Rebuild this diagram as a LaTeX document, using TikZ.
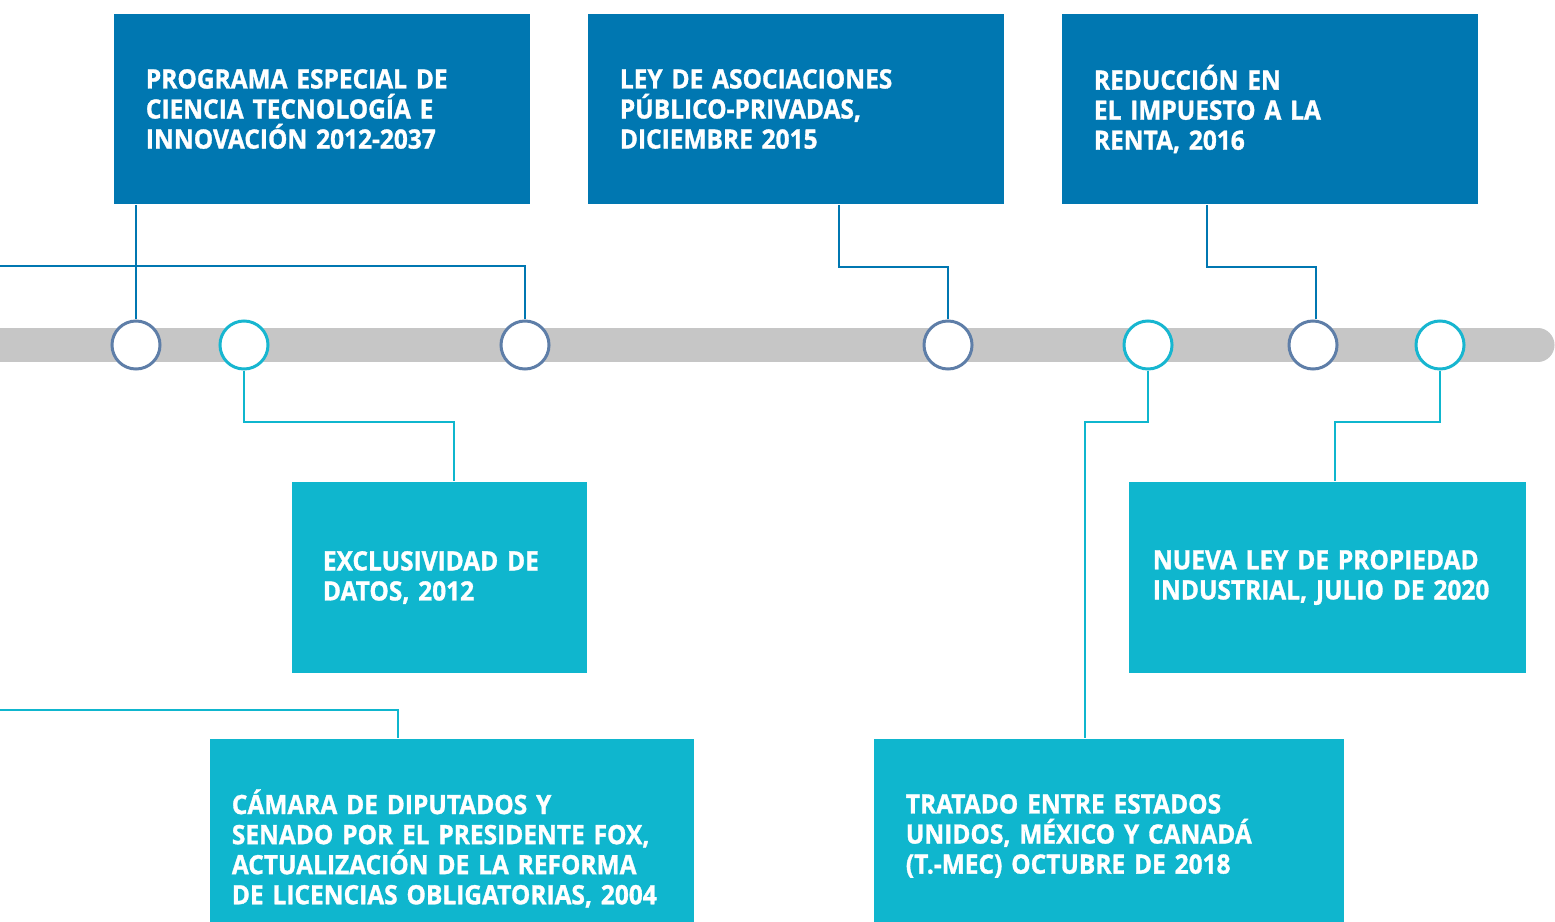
\documentclass[tikz,border=0pt]{standalone}
\usepackage{fontspec}
\newfontfamily\boxfont{Open Sans}[FakeStretch=0.92, BoldFeatures={FakeBold=1.2}]

\definecolor{darkblue}{HTML}{0077B1}
\definecolor{lightblue}{HTML}{0FB6CE}
\definecolor{ringdark}{HTML}{5E7EA8}
\definecolor{ringlight}{HTML}{17B6D0}
\definecolor{barcolor}{HTML}{C6C6C6}

\tikzset{
    topbox/.style={fill=darkblue, text=white, align=left, inner xsep=0.32cm,
        text width=3.52cm, minimum height=1.9cm,
        font=\boxfont\bfseries\fontsize{7.56}{8.55}\selectfont},
    botbox/.style={fill=lightblue, text=white, align=left,
        font=\boxfont\bfseries\fontsize{7.56}{8.55}\selectfont},
    ringtop/.style={circle, draw=ringdark, line width=0.85pt, fill=white,
        minimum size=0.48cm, inner sep=0pt},
    ringbot/.style={ringtop, draw=ringlight},
    topline/.style={darkblue, line width=0.7pt},
    botline/.style={lightblue, line width=0.7pt}
}

\begin{document}
\begin{tikzpicture}[x=0.01cm, y=-0.01cm]
    \useasboundingbox (0,0) rectangle (1555,921);
    \clip (0,0) rectangle (1555,921);

    % time bar
    \draw[barcolor, line width=0.33cm, line cap=round] (-50,345) -- (1538,345);

    % boxes above the bar
    \node[topbox] (pec) at (322,109) {PROGRAMA ESPECIAL DE\\CIENCIA TECNOLOGÍA E\\INNOVACIÓN 2012-2037};
    \node[topbox] (lap) at (796,109) {LEY DE ASOCIACIONES\\PÚBLICO-PRIVADAS,\\DICIEMBRE 2015};
    \node[topbox] (isr) at (1270,109) {REDUCCIÓN EN\\EL IMPUESTO A LA\\RENTA, 2016};

    % boxes below the bar
    \node[botbox, inner xsep=0.31cm, text width=2.33cm, minimum height=1.91cm] (exd) at (439.5,577.5) {EXCLUSIVIDAD DE\\DATOS, 2012};
    \node[botbox, inner xsep=0.22cm, text width=4.4cm, minimum height=2.19cm] (cdd) at (452,848.5) {CÁMARA DE DIPUTADOS Y\\SENADO POR EL PRESIDENTE FOX,\\ACTUALIZACIÓN DE LA REFORMA\\DE LICENCIAS OBLIGATORIAS, 2004};
    \node[botbox, inner xsep=0.32cm, text width=4.06cm, minimum height=1.94cm] (tmec) at (1109,836) {TRATADO ENTRE ESTADOS\\UNIDOS, MÉXICO Y CANADÁ\\(T.-MEC) OCTUBRE DE 2018};
    \node[botbox, inner xsep=0.24cm, text width=3.49cm, minimum height=1.91cm] (lpi) at (1327.5,577.5) {NUEVA LEY DE PROPIEDAD\\INDUSTRIAL, JULIO DE 2020};

    % markers on the bar
    \node[ringtop] (t1) at (136,345) {};
    \node[ringbot] (t2) at (244,345) {};
    \node[ringtop] (t3) at (525,345) {};
    \node[ringtop] (t4) at (948,345) {};
    \node[ringbot] (t5) at (1148,345) {};
    \node[ringtop] (t6) at (1313,345) {};
    \node[ringbot] (t7) at (1440,345) {};

    \coordinate (w1) at (0,266);
    \coordinate (w2) at (0,710);

    % connectors
    \draw[topline] (pec.south -| t1) -- (t1);
    \draw[topline] (w1) -| (t3);
    \draw[topline] ([xshift=0.43cm]lap.south) -- ++(0,62) -| (t4);
    \draw[topline] ([xshift=-0.63cm]isr.south) -- ++(0,62) -| ([xshift=0.03cm]t6.north);

    \draw[botline] (t2) -- ++(0,77) -| ([xshift=0.145cm]exd.north);
    \draw[botline] (w2) -| ([xshift=-0.54cm]cdd.north);
    \draw[botline] (t5) -- ++(0,77) -| ([xshift=-0.24cm]tmec.north);
    \draw[botline] (t7) -- ++(0,77) -| ([xshift=0.075cm]lpi.north);
\end{tikzpicture}
\end{document}
